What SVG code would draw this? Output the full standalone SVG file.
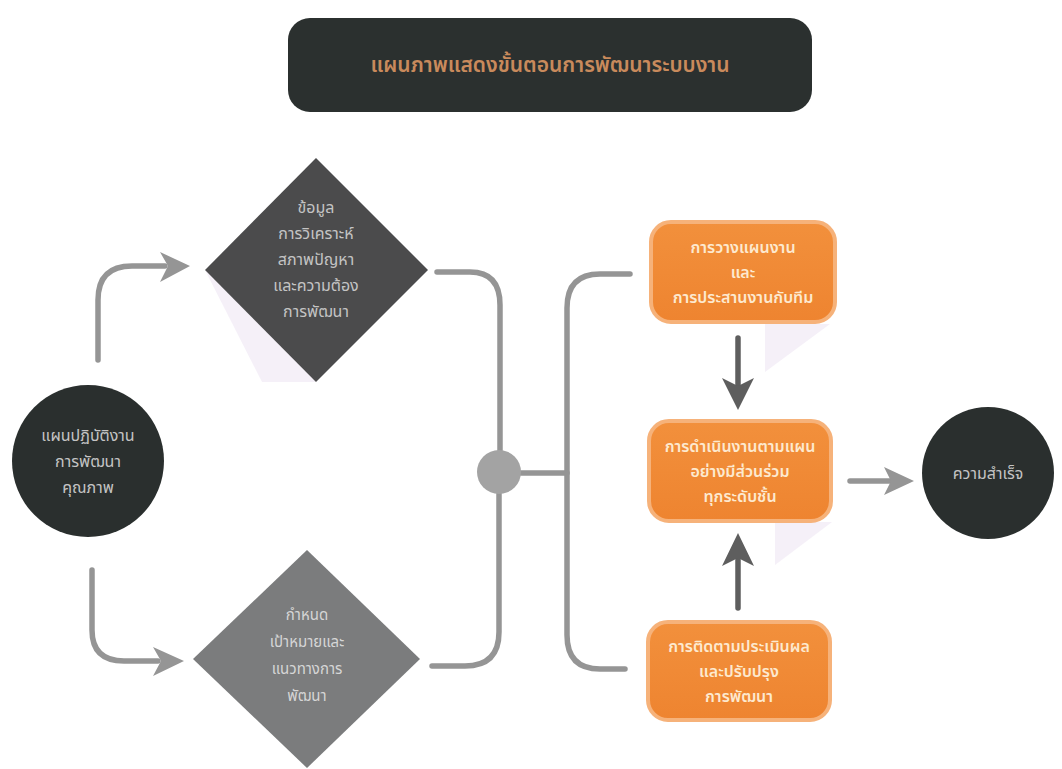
<svg xmlns="http://www.w3.org/2000/svg" width="1062" height="769" viewBox="0 0 1062 769">
<style>
.conn{fill:none;stroke:#959595;stroke-width:5.5;stroke-linecap:round}
.head{fill:#959595}
.t{font-family:"Noto Sans","Noto Sans Thai","Liberation Sans",sans-serif;text-anchor:middle}
.lt{fill:#c4c4c4;font-size:16px}
.ot{fill:#fde9cf;font-size:16px;font-weight:600}
.box{stroke:#f6b27a;stroke-width:4}
.sh{fill:#eee6f4;opacity:0.6}
</style>
<defs>
<linearGradient id="og" x1="0" y1="0" x2="0" y2="1">
<stop offset="0" stop-color="#f2903c"/><stop offset="1" stop-color="#ee8430"/>
</linearGradient>
</defs>
<rect width="1062" height="769" fill="#ffffff"/>

<g id="title">
<rect x="288" y="18" width="524" height="94" rx="22" fill="#2b302f"/>
<text class="t" x="550" y="72" font-size="21" font-weight="600" fill="#c98a5c">แผนภาพแสดงขั้นตอนการพัฒนาระบบงาน</text>
</g>

<g id="connectors">
<path class="conn" d="M98,360 V300 Q98,266 132,266 H165"/>
<polygon class="head" points="160,252 190,266 160,282 168,266"/>
<path class="conn" d="M92,570 V630 Q92,661 124,661 H158"/>
<polygon class="head" points="153,647 184,661 153,676 161,661"/>
<path class="conn" d="M437,272 H470 Q500,272 500,305 V450"/>
<path class="conn" d="M499,494 V632 Q499,666 465,666 H432"/>
<path class="conn" d="M521,473 H567"/>
<path class="conn" d="M630,274 H600 Q567,274 567,308 V635 Q567,669 600,669 H625"/>
<path class="conn" d="M738,338 V385" style="stroke:#5e5e5e"/>
<polygon fill="#5e5e5e" points="722,378 738,410 754,378 738,386"/>
<path class="conn" d="M738,608 V560" style="stroke:#5e5e5e"/>
<polygon fill="#5e5e5e" points="722,566 738,533 754,566 738,558"/>
<path class="conn" d="M850,481 H890"/>
<polygon class="head" points="884,467 914,481 884,495 891,481"/>
</g>

<g id="start">
<circle cx="88" cy="461" r="76" fill="#2a2f2e"/>
<text class="t lt" x="88" y="441">แผนปฏิบัติงาน</text>
<text class="t lt" x="88" y="467">การพัฒนา</text>
<text class="t lt" x="88" y="493">คุณภาพ</text>
</g>

<g id="diamond-top">
<polygon class="sh" points="205,270 316,382 262,382"/>
<polygon points="316,158 428,270 316,382 205,270" fill="#4b4b4c"/>
<text class="t lt" x="316" y="213" font-size="15">ข้อมูล</text>
<text class="t lt" x="316" y="239" font-size="15">การวิเคราะห์</text>
<text class="t lt" x="316" y="265" font-size="15">สภาพปัญหา</text>
<text class="t lt" x="316" y="291" font-size="15">และความต้อง</text>
<text class="t lt" x="316" y="317" font-size="15">การพัฒนา</text>
</g>

<g id="diamond-bottom">
<polygon points="307,550 420,659 307,768 193,659" fill="#7b7c7d"/>
<text class="t" x="307" y="620" font-size="15" fill="#d6d6d6">กำหนด</text>
<text class="t" x="307" y="647" font-size="15" fill="#d6d6d6">เป้าหมายและ</text>
<text class="t" x="307" y="674" font-size="15" fill="#d6d6d6">แนวทางการ</text>
<text class="t" x="307" y="701" font-size="15" fill="#d6d6d6">พัฒนา</text>
</g>

<g id="hub">
<circle cx="499" cy="472" r="22" fill="#a3a3a3"/>
</g>

<g id="box1">
<polygon class="sh" points="765,324 830,324 765,372"/>
<rect class="box" x="651" y="222" width="184" height="100" rx="20" fill="url(#og)"/>
<text class="t ot" x="743" y="253">การวางแผนงาน</text>
<text class="t ot" x="743" y="278">และ</text>
<text class="t ot" x="743" y="303">การประสานงานกับทีม</text>
</g>

<g id="box2">
<polygon class="sh" points="775,522 832,522 775,565"/>
<rect class="box" x="649" y="421" width="182" height="100" rx="20" fill="url(#og)"/>
<text class="t ot" x="740" y="452">การดำเนินงานตามแผน</text>
<text class="t ot" x="740" y="477">อย่างมีส่วนร่วม</text>
<text class="t ot" x="740" y="502">ทุกระดับชั้น</text>
</g>

<g id="box3">
<rect class="box" x="648" y="622" width="182" height="98" rx="20" fill="url(#og)"/>
<text class="t ot" x="739" y="652">การติดตามประเมินผล</text>
<text class="t ot" x="739" y="677">และปรับปรุง</text>
<text class="t ot" x="739" y="702">การพัฒนา</text>
</g>

<g id="end">
<circle cx="988" cy="473" r="66" fill="#2a2f2e"/>
<text class="t lt" x="988" y="479" font-size="17">ความสำเร็จ</text>
</g>
</svg>
